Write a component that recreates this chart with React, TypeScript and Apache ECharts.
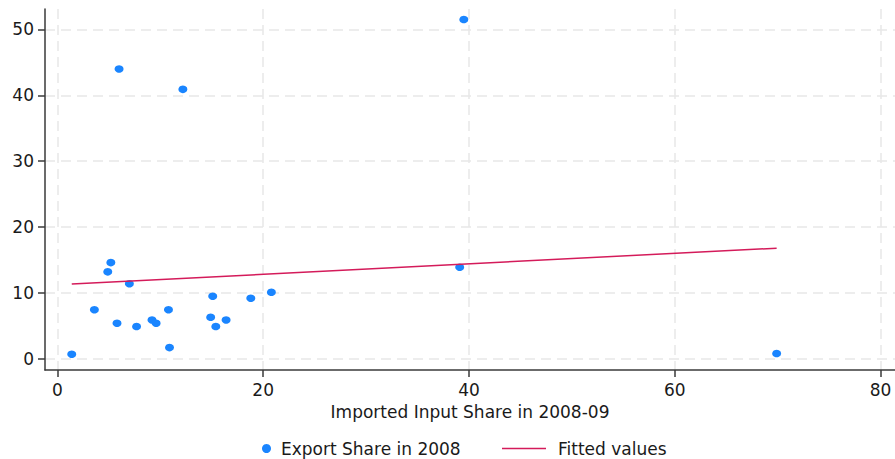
import React, { useEffect, useRef } from "react";
import * as echarts from "echarts";

const importShare = [1.4, 3.6, 4.9, 5.2, 5.8, 6.0, 7.0, 7.7, 9.2, 9.6, 10.8, 10.9, 12.2, 14.9, 15.1, 15.4, 16.4, 18.8, 20.8, 39.1, 39.5, 69.9];
const exportShare = [0.7, 7.45, 13.2, 14.6, 5.4, 44.0, 11.4, 4.9, 5.9, 5.4, 7.45, 1.7, 40.9, 6.3, 9.5, 4.9, 5.9, 9.2, 10.1, 13.9, 51.5, 0.8];
const fitX = [1.4, 69.9];
const fitY = [11.35, 16.8];
const xTicks = [0, 20, 40, 60, 80];
const yTicks = [0, 10, 20, 30, 40, 50];

const FONT = "'DejaVu Sans', 'Liberation Sans', sans-serif";
const TXT = "#1a1a1a";

export default function App() {
  const ref = useRef<HTMLDivElement>(null);
  useEffect(() => {
    if (!ref.current) return;
    const chart = echarts.init(ref.current, undefined, { renderer: "svg" });
    const split = { show: true, lineStyle: { color: "#e8e8e8", width: 1.5, type: [10, 6] as any } };
    const axisLine = { show: true, onZero: false, lineStyle: { color: "#3a3a3a", width: 1.5 } };
    chart.setOption({
      animation: false,
      backgroundColor: "#ffffff",
      grid: { left: 45, right: 0, top: 9, bottom: 89, containLabel: false },
      xAxis: {
        type: "value",
        min: -1.2,
        max: 81.4,
        axisLine,
        axisTick: { show: true, length: 7, customValues: xTicks, lineStyle: { color: "#3a3a3a", width: 1.5 } },
        axisLabel: { customValues: xTicks, margin: 11, fontSize: 17, fontFamily: FONT, color: TXT },
        splitLine: split,
        name: "Imported Input Share in 2008-09",
        nameLocation: "middle",
        nameGap: 33,
        nameTextStyle: { fontSize: 17, fontFamily: FONT, color: TXT },
      },
      yAxis: {
        type: "value",
        min: -1.7,
        max: 53.1,
        axisLine,
        axisTick: { show: true, length: 7, customValues: yTicks, lineStyle: { color: "#3a3a3a", width: 1.5 } },
        axisLabel: { customValues: yTicks, margin: 11, fontSize: 17, fontFamily: FONT, color: TXT },
        splitLine: split,
      },
      legend: [
        {
          data: ["Export Share in 2008"],
          left: 262,
          top: 440,
          padding: 0,
          itemWidth: 9,
          itemHeight: 9,
          icon: "circle",
          textStyle: { fontSize: 17, fontFamily: FONT, color: TXT, padding: [0, 0, 0, 5] },
        },
        {
          data: [{ name: "Fitted values", icon: "rect" }],
          left: 502,
          top: 440,
          padding: 0,
          itemWidth: 44,
          itemHeight: 1.5,
          itemStyle: { color: "#d41b5a" },
          textStyle: { fontSize: 17, fontFamily: FONT, color: TXT, padding: [0, 0, 0, 7] },
        },
      ],
      series: [
        {
          name: "Export Share in 2008",
          type: "scatter",
          symbol: "circle",
          symbolSize: [9, 7.5],
          itemStyle: { color: "#1a85ff", opacity: 1 },
          data: importShare.map((x, i) => [x, exportShare[i]]),
        },
        {
          name: "Fitted values",
          type: "line",
          symbol: "none",
          showSymbol: false,
          lineStyle: { color: "#d41b5a", width: 1.5 },
          itemStyle: { color: "#d41b5a" },
          data: fitX.map((x, i) => [x, fitY[i]]),
        },
      ],
    });
    return () => chart.dispose();
  }, []);
  return (
    <div
      ref={ref}
      style={{ position: "fixed", left: 0, top: 0, width: 895, height: 459, background: "#fff" }}
    />
  );
}
